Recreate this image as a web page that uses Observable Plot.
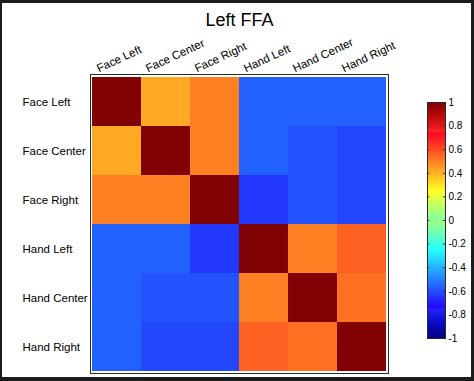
<!DOCTYPE html>
<html>
<head>
<meta charset="utf-8">
<script src="https://cdn.jsdelivr.net/npm/d3@7"></script>
<script src="https://cdn.jsdelivr.net/npm/@observablehq/plot@0.6"></script>
<style>
  html, body { margin: 0; padding: 0; background: white; }
  #wrap { position: relative; width: 474px; height: 381px; overflow: hidden; background: white; }
  #wrap svg, #wrap figure { position: absolute; left: 0; top: 0; margin: 0; }
  #border { position: absolute; left: 0; top: 0; width: 474px; height: 381px; box-sizing: border-box;
            border-style: solid; border-color: #1c1c1c; border-width: 3px 3px 4px 2px; pointer-events: none; }
</style>
</head>
<body>
<div id="wrap"><div id="border"></div></div>
<script>
// Categories (rows top→bottom, columns left→right)
const categories = ["Face Left", "Face Center", "Face Right", "Hand Left", "Hand Center", "Hand Right"];
const title = "Left FFA";

// Correlation matrix rows
const rowFaceLeft   = [1.00, 0.42, 0.50, -0.56, -0.56, -0.56];
const rowFaceCenter = [0.42, 1.00, 0.50, -0.56, -0.59, -0.61];
const rowFaceRight  = [0.50, 0.50, 1.00, -0.64, -0.59, -0.61];
const rowHandLeft   = [-0.56, -0.56, -0.64, 1.00, 0.50, 0.56];
const rowHandCenter = [-0.56, -0.59, -0.59, 0.50, 1.00, 0.53];
const rowHandRight  = [-0.56, -0.61, -0.61, 0.56, 0.53, 1.00];
const rows = [rowFaceLeft, rowFaceCenter, rowFaceRight, rowHandLeft, rowHandCenter, rowHandRight];

// Colorbar tick labels
const colorbarTicks = [-1, -0.8, -0.6, -0.4, -0.2, 0, 0.2, 0.4, 0.6, 0.8, 1];

const table = [];
rows.forEach((r, i) => r.forEach((v, j) => table.push({row: categories[i], col: categories[j], value: v})));

// MATLAB "jet" colormap (slightly softened like the printed figure)
const clamp = v => Math.max(0, Math.min(1, v));
const jet = t => {
  let c = [
    clamp(1.5 - Math.abs(4 * t - 3)),
    clamp(1.5 - Math.abs(4 * t - 2)),
    clamp(1.5 - Math.abs(4 * t - 1))
  ].map(v => v * 255);
  const mn = Math.min(...c), mx = Math.max(...c);
  const raise = 35 * Math.pow(mx / 255, 4);
  c = c.map(v => (v === mn ? v + raise : v));
  return d3.rgb(c[0], c[1], c[2]).formatHex();
};
const colorScale = {type: "linear", domain: [-1, 1], interpolate: jet};
const font = "'Liberation Sans', Arial, Helvetica, sans-serif";

const main = Plot.plot({
  width: 474, height: 381,
  marginLeft: 90, marginRight: 86, marginTop: 74, marginBottom: 8,
  x: {domain: categories, padding: 0, axis: null},
  y: {domain: categories, padding: 0, axis: null},
  color: colorScale,
  style: {fontFamily: font, fontSize: "11.5px", background: "transparent", color: "black"},
  marks: [
    Plot.cell(table, {x: "col", y: "row", fill: "value", inset: 0}),
    Plot.frame({stroke: "#2a2a2a", strokeWidth: 1}),
    Plot.text(categories, {x: d => d, frameAnchor: "top", rotate: -25, textAnchor: "start",
      lineAnchor: "bottom", dx: -18, dy: -2, fontSize: 11.5, fill: "black"}),
    Plot.text(categories, {y: d => d, frameAnchor: "left", textAnchor: "start", dx: -68, fontSize: 11.5, fill: "black"}),
    Plot.text([title], {frameAnchor: "top", dy: -61, fontSize: 18, fill: "black"})
  ]
});

const bar = Plot.plot({
  width: 474, height: 381,
  marginLeft: 427, marginRight: 29, marginTop: 102, marginBottom: 43,
  x: {domain: [0, 1], axis: null},
  y: {domain: [-1, 1], axis: null},
  color: colorScale,
  style: {fontFamily: font, fontSize: "10px", background: "transparent", color: "black"},
  marks: [
    Plot.raster({fill: (x, y) => y, x1: 0, x2: 1, y1: -1, y2: 1}),
    Plot.ruleY(colorbarTicks, {x1: 0, x2: 0.12, stroke: "#333"}),
    Plot.ruleY(colorbarTicks, {x1: 0.88, x2: 1, stroke: "#333"}),
    Plot.frame({stroke: "#2a2a2a", strokeWidth: 1}),
    Plot.axisY({anchor: "right", ticks: colorbarTicks, tickSize: 0, tickPadding: 3,
      tickFormat: d => String(+d.toFixed(1)), fontSize: 10, fill: "black"})
  ]
});

const wrap = document.getElementById("wrap");
wrap.insertBefore(main, wrap.firstChild);
wrap.insertBefore(bar, document.getElementById("border"));
</script>
</body>
</html>
